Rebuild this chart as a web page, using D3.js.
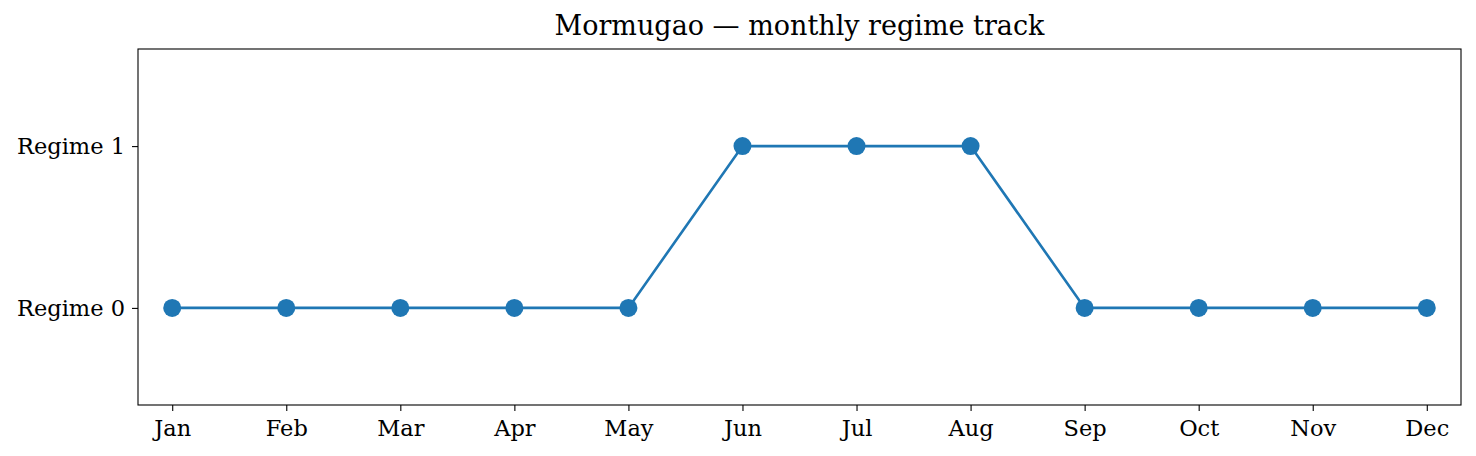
<!DOCTYPE html>
<html>
<head>
<meta charset="utf-8">
<script src="https://cdn.jsdelivr.net/npm/d3@7"></script>
<style>
	body { margin: 0; background: #fff; }
	svg text { font-family: "DejaVu Serif", serif; fill: #000; }
</style>
</head>
<body>
<svg id="chart" width="1476" height="456"></svg>
<script>
	// data
	const months = ["Jan", "Feb", "Mar", "Apr", "May", "Jun", "Jul", "Aug", "Sep", "Oct", "Nov", "Dec"];
	const regime = [0, 0, 0, 0, 0, 1, 1, 1, 0, 0, 0, 0];
	const regimeLabels = ["Regime 0", "Regime 1"];
	const title = "Mormugao \u2014 monthly regime track";

	const width = 1476;
	const height = 456;
	const margin = { top: 49, right: 15, bottom: 51, left: 138 };
	const color = "#1f77b4";

	const svg = d3.select("#chart");

	let xScale = d3.scaleLinear()
		.domain([-0.3, months.length - 1 + 0.3])
		.range([margin.left, width - margin.right]);

	let yScale = d3.scaleLinear()
		.domain([-0.6, 1.6])
		.range([height - margin.bottom, margin.top]);

	// x axis
	let xAxis = d3.axisBottom(xScale)
		.tickValues(d3.range(months.length))
		.tickFormat(function(d) { return months[d]; })
		.tickSize(6)
		.tickPadding(9);

	svg.append("g")
		.attr("transform", "translate(0," + (height - margin.bottom) + ")")
		.call(xAxis)
		.call(function(g) { g.select(".domain").remove(); })
		.selectAll("text")
		.style("font-size", "22.5px");

	// y axis
	let yAxis = d3.axisLeft(yScale)
		.tickValues([0, 1])
		.tickFormat(function(d) { return regimeLabels[d]; })
		.tickSize(6)
		.tickPadding(7);

	svg.append("g")
		.attr("transform", "translate(" + margin.left + ",0)")
		.call(yAxis)
		.call(function(g) { g.select(".domain").remove(); })
		.selectAll("text")
		.style("font-size", "22.5px");

	svg.selectAll(".tick line").attr("stroke", "#000").attr("stroke-width", 1.1);

	// frame
	svg.append("rect")
		.attr("x", margin.left)
		.attr("y", margin.top)
		.attr("width", width - margin.right - margin.left)
		.attr("height", height - margin.bottom - margin.top)
		.attr("fill", "none")
		.attr("stroke", "#000")
		.attr("stroke-width", 1.1);

	// line
	let line = d3.line()
		.x(function(d, i) { return xScale(i); })
		.y(function(d) { return yScale(d); });

	svg.append("path")
		.datum(regime)
		.attr("d", line)
		.attr("fill", "none")
		.attr("stroke", color)
		.attr("stroke-width", 2.6);

	svg.selectAll(".dot")
		.data(regime)
		.enter()
		.append("circle")
		.classed("dot", true)
		.attr("cx", function(d, i) { return xScale(i); })
		.attr("cy", function(d) { return yScale(d); })
		.attr("r", 9)
		.attr("fill", color);

	// title
	svg.append("text")
		.attr("x", (margin.left + width - margin.right) / 2)
		.attr("y", 35)
		.attr("text-anchor", "middle")
		.style("font-size", "27px")
		.text(title);
</script>
</body>
</html>
